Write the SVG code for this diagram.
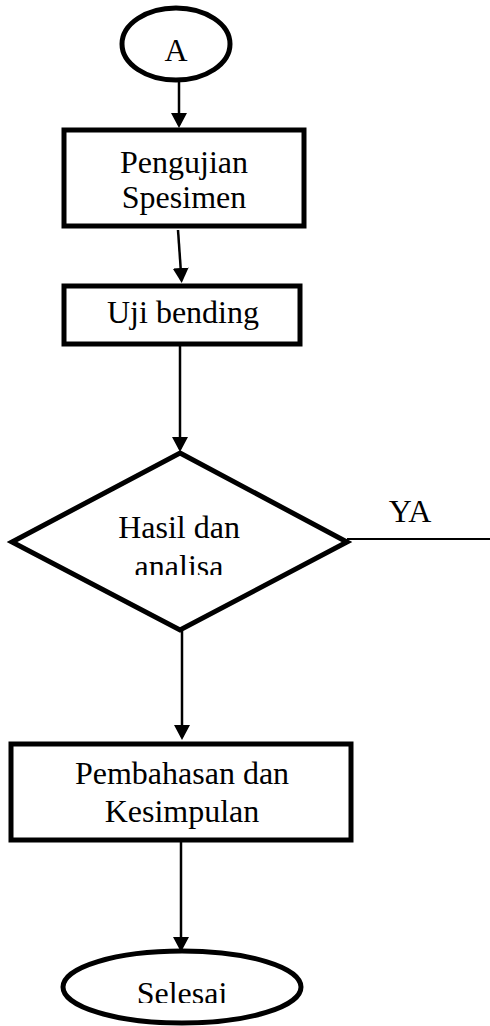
<svg xmlns="http://www.w3.org/2000/svg" width="490" height="1026" viewBox="0 0 490 1026">
  <style>
    .shape { fill: #ffffff; stroke: #000000; stroke-width: 5; stroke-linejoin: miter; }
    .label { font-family: "Liberation Serif", "Times New Roman", "DejaVu Serif", serif; font-size: 32px; fill: #000000; text-anchor: middle; }
    .flow { fill: none; stroke: #000000; stroke-width: 2.5; }
    .thin { fill: none; stroke: #000000; stroke-width: 2; }
  </style>
  <defs>
    <marker id="arrow" markerUnits="userSpaceOnUse" markerWidth="15" markerHeight="16" viewBox="0 0 15 16" refX="12" refY="8" orient="auto">
      <path d="M0,0 L15,8 L0,16 z" fill="#000000"/>
    </marker>
    <!-- text boxes crop the lower part of the last line -->
    <clipPath id="clip-decision">
      <rect x="0" y="440" width="360" height="135"/>
    </clipPath>
    <clipPath id="clip-end">
      <rect x="0" y="950" width="360" height="53"/>
    </clipPath>
  </defs>

  <rect width="490" height="1026" fill="#ffffff"/>

  <g id="connectors">
    <line class="flow" x1="179" y1="82" x2="179" y2="125" marker-end="url(#arrow)"/>
    <line class="flow" x1="178" y1="230" x2="181.5" y2="280" marker-end="url(#arrow)"/>
    <line class="flow" x1="180" y1="346" x2="180" y2="449" marker-end="url(#arrow)"/>
    <line class="flow" x1="182" y1="631" x2="182" y2="737" marker-end="url(#arrow)"/>
    <line class="flow" x1="181" y1="842" x2="181" y2="949" marker-end="url(#arrow)"/>
    <line class="thin" x1="347" y1="539" x2="490" y2="539"/>
    <text class="label" x="410" y="522">YA</text>
  </g>

  <g id="node-a">
    <ellipse class="shape" cx="176" cy="44" rx="54" ry="36"/>
    <text class="label" x="176" y="61">A</text>
  </g>

  <g id="node-pengujian">
    <rect class="shape" x="64" y="130" width="240" height="96"/>
    <text class="label" x="184" y="173">Pengujian</text>
    <text class="label" x="184" y="208">Spesimen</text>
  </g>

  <g id="node-uji-bending">
    <rect class="shape" x="64" y="286" width="236" height="58"/>
    <text class="label" x="183" y="323">Uji bending</text>
  </g>

  <g id="node-hasil">
    <polygon class="shape" points="180,453 347,542 180,630 12,542"/>
    <text class="label" x="179" y="538">Hasil dan</text>
    <text class="label" x="179" y="577" clip-path="url(#clip-decision)">analisa</text>
  </g>

  <g id="node-pembahasan">
    <rect class="shape" x="11" y="744" width="340" height="96"/>
    <text class="label" x="182" y="784">Pembahasan dan</text>
    <text class="label" x="182" y="822">Kesimpulan</text>
  </g>

  <g id="node-selesai">
    <ellipse class="shape" cx="182" cy="987" rx="119" ry="36"/>
    <text class="label" x="182" y="1004" clip-path="url(#clip-end)">Selesai</text>
  </g>
</svg>
